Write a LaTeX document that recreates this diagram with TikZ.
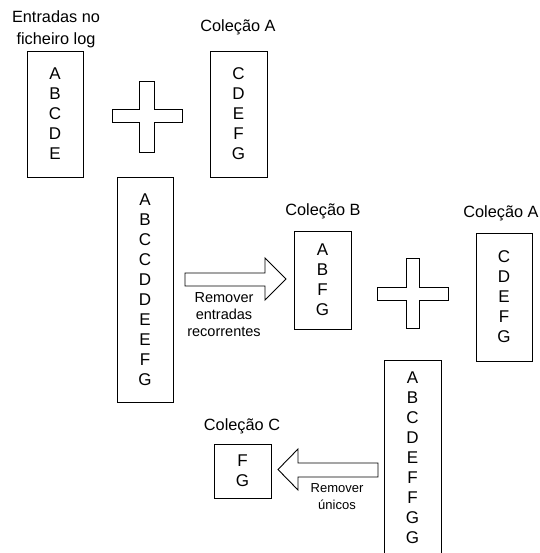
\documentclass[tikz,border=0pt]{standalone}
\usepackage{fontspec}
\setmainfont{Liberation Sans}
\begin{document}
\begin{tikzpicture}[x=1pt,y=-1pt,
  box/.style={draw, line width=0.9pt, inner sep=0pt, align=center,
    font=\fontsize{17}{20}\selectfont},
  ttl/.style={inner sep=0pt, align=center, font=\fontsize{16.3}{22}\selectfont},
  lbl/.style={inner sep=0pt, align=center, font=\fontsize{14.5}{17}\selectfont},
  lblsmall/.style={inner sep=0pt, align=center, font=\fontsize{13}{17}\selectfont},
  blockshape/.style={draw, line width=0.9pt, fill=white, line join=miter}]
\useasboundingbox (0,0) rectangle (539,553);
\clip (0,0) rectangle (539,553);

% boxes
\node[box, minimum width=56pt, minimum height=126pt] (log) at (55,114) {A\\B\\C\\D\\E};
\node[box, minimum width=57pt, minimum height=126pt] (colA) at (238.5,114) {C\\D\\E\\F\\G};
\node[box, minimum width=56pt, minimum height=225pt] (merged) at (145,289.5) {A\\B\\C\\C\\D\\D\\E\\E\\F\\G};
\node[box, minimum width=57pt, minimum height=98pt] (colB) at (322.5,280) {A\\B\\F\\G};
\node[box, minimum width=56pt, minimum height=128pt] (colA2) at (504,297) {C\\D\\E\\F\\G};
\node[box, minimum width=57pt, minimum height=196pt] (merged2) at (412.5,458) {A\\B\\C\\D\\E\\F\\F\\G\\G};
\node[box, minimum width=57pt, minimum height=54pt] (colC) at (242.5,471) {F\\G};

% titles
\node[ttl] (tlog) at (56,29.75) {Entradas no\\ficheiro log};
\node[ttl, anchor=base] (tcolA) at (238,32) {Coleção A};
\node[ttl, anchor=base] (tcolB) at (323,215) {Coleção B};
\node[ttl, anchor=base] (tcolA2) at (501,217) {Coleção A};
\node[ttl, anchor=base] (tcolC) at (242,430) {Coleção C};

% plus signs
\draw[blockshape] (139,81) -- (154,81) -- (154,109) -- (182,109) -- (182,122) -- (154,122)
  -- (154,152) -- (139,152) -- (139,122) -- (112,122) -- (112,109) -- (139,109) -- cycle;
\draw[blockshape] (406,258) -- (419,258) -- (419,287) -- (448,287) -- (448,300) -- (419,300)
  -- (419,328) -- (406,328) -- (406,300) -- (377,300) -- (377,287) -- (406,287) -- cycle;

% block arrows
\draw[blockshape] (185,273) -- (265,273) -- (265,258) -- (286,279) -- (265,300) -- (265,286)
  -- (185,286) -- cycle;
\draw[blockshape] (378,463) -- (298,463) -- (298,449) -- (278,469.5) -- (298,490) -- (298,477)
  -- (378,477) -- cycle;

% arrow labels
\node[lbl] (l1) at (224,315) {Remover\\entradas\\recorrentes};
\node[lblsmall] (l2) at (337,497) {Remover\\únicos};
\end{tikzpicture}
\end{document}
